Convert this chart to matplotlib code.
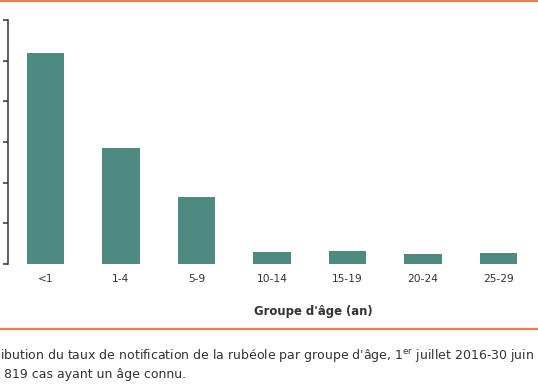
import matplotlib
matplotlib.use("Agg")
import matplotlib.pyplot as plt
from matplotlib.lines import Line2D

categories = ["<1", "1-4", "5-9", "10-14", "15-19", "20-24", "25-29"]
rates = [5.2, 2.86, 1.65, 0.29, 0.32, 0.24, 0.26]
y_ticks = [0, 1, 2, 3, 4, 5, 6]
x_label = "Groupe d'âge (an)"
caption_1 = "ibution du taux de notification de la rubéole par groupe d'âge, 1$^{\\mathrm{er}}$ juillet 2016-30 juin"
caption_2 = " 819 cas ayant un âge connu."

plt.rcParams['font.family'] = ['DejaVu Sans']
plt.rcParams['mathtext.fontset'] = 'dejavusans'

W, H = 538, 384
fig = plt.figure(figsize=(W / 100, H / 100), dpi=100)
ax = fig.add_axes([7.5 / W, (H - 264) / H, 529 / W, 244 / H])

bar_color = "#4D8B80"
text_color = "#333333"
x = list(range(len(categories)))
ax.bar(x, rates, width=0.5, color=bar_color)
ax.set_xlim(-0.503, len(categories) - 1 + 0.503)
ax.set_ylim(0, 6)
ax.set_yticks(y_ticks)
ax.tick_params(axis='y', direction='out', length=3.5, width=1.1, color=text_color, labelleft=False)
ax.set_xticks(x)
ax.set_xticklabels(categories, fontsize=7.7, color=text_color)
ax.tick_params(axis='x', length=0, pad=7.5)
for s in ['top', 'right', 'bottom']:
    ax.spines[s].set_visible(False)
ax.spines['left'].set_color(text_color)
ax.spines['left'].set_linewidth(1.1)

fig.text(313 / W, 1 - 315 / H, x_label, ha='center', va='baseline', fontsize=8.4,
         fontweight='bold', color=text_color)

orange = "#E3873A"
fig.add_artist(Line2D([0, 1], [1 - 329 / H, 1 - 329 / H], transform=fig.transFigure, color=orange, linewidth=1.6))
fig.add_artist(Line2D([0, 1], [1 - 0.8 / H, 1 - 0.8 / H], transform=fig.transFigure, color=orange, linewidth=1.6))

fig.text(0.5 / W, 1 - 360 / H, caption_1, ha='left', va='baseline', fontsize=9.0, color=text_color)
fig.text(0.5 / W, 1 - 378 / H, caption_2, ha='left', va='baseline', fontsize=9.0, color=text_color)

fig.savefig("out.png", dpi=100)
